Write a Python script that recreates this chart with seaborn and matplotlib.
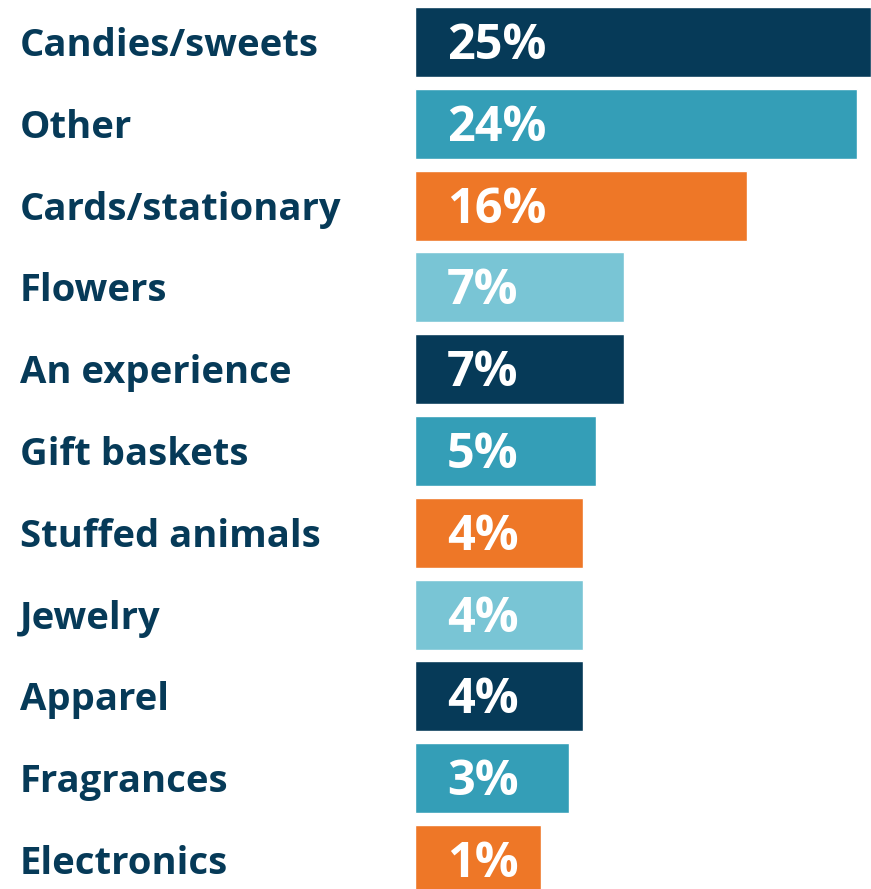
import matplotlib
matplotlib.use("Agg")
import matplotlib.pyplot as plt
import matplotlib.transforms as mtransforms
import seaborn as sns
import numpy as np
import pandas as pd

categories = ["Candies/sweets", "Other", "Cards/stationary", "Flowers", "An experience",
              "Gift baskets", "Stuffed animals", "Jewelry", "Apparel", "Fragrances", "Electronics"]
values = [25, 24, 16, 7, 7, 5, 4, 4, 4, 3, 1]
value_labels = ["25%", "24%", "16%", "7%", "7%", "5%", "4%", "4%", "4%", "3%", "1%"]

NAVY = "#063a58"
TEAL = "#349eb7"
ORANGE = "#ee7727"
LIGHT = "#79c5d5"
cycle = [NAVY, TEAL, ORANGE, LIGHT]
colors = [cycle[i % 4] for i in range(len(categories))]

BASE = 8.2  # visual minimum bar length (layout constant)

sns.set_theme(style="white")
plt.rcParams["font.family"] = ["Open Sans", "DejaVu Sans"]

df = pd.DataFrame({"category": categories, "value": values})
df["length"] = df["value"] + BASE

W, H = 871, 889
fig = plt.figure(figsize=(W / 100, H / 100), dpi=100)
ax = fig.add_axes([415 / W, 0, 1 - 415 / W, 1])

sns.barplot(data=df, x="length", y="category", hue="category", palette=colors,
            orient="h", width=0.855, legend=False, ax=ax, saturation=1)

pitch = 81.8
ax.set_ylim((H - 42) / pitch, -42 / pitch)
ax.set_xlim(0, 25 + BASE)
ax.axis("off")

trans = mtransforms.blended_transform_factory(fig.transFigure, ax.transData)
px = 72 / 100  # points per pixel
for i, (cat, lab) in enumerate(zip(categories, value_labels)):
    ax.annotate(cat, xy=(20 / W, i), xycoords=trans, xytext=(0, -14 * px),
                textcoords="offset points", ha="left", va="baseline",
                fontsize=27.5, fontweight="bold", color=NAVY)
    ax.annotate(lab, xy=(0, i), xytext=(32 * px, -17 * px), textcoords="offset points",
                ha="left", va="baseline", fontsize=35, fontweight="bold", color="white")

fig.savefig("out.png", dpi=100)
